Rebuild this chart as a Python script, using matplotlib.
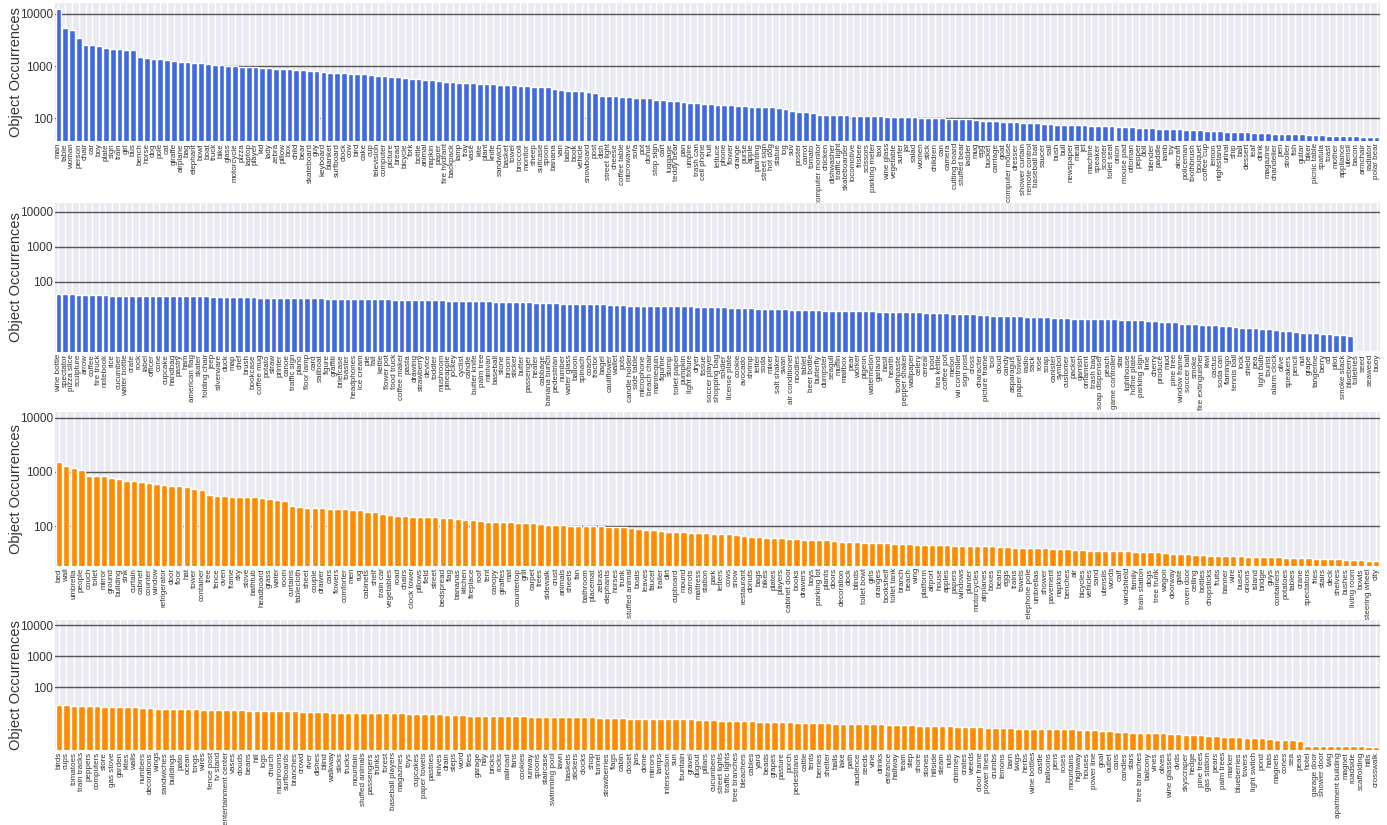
import matplotlib
matplotlib.use('Agg')
import matplotlib.pyplot as plt
import seaborn as sns
import numpy as np

sns.set_style('darkgrid')
plt.rcParams['font.family'] = ['Liberation Sans', 'DejaVu Sans']

# panel 1 - singular names, most frequent
labels_1 = ['man', 'table', 'woman', 'person', 'chair', 'car', 'boy', 'plate', 'sign', 'train',
            'girl', 'bus', 'bench', 'horse', 'dog', 'pole', 'cat', 'giraffe', 'airplane', 'bag',
            'elephant', 'bowl', 'boat', 'truck', 'bike', 'glass', 'motorcycle', 'pizza', 'laptop', 'player',
            'kid', 'lady', 'zebra', 'pillow', 'box', 'child', 'bear', 'skateboard', 'guy', 'keyboard',
            'blanket', 'surfboard', 'clock', 'cow', 'bird', 'cake', 'cup', 'television', 'computer', 'picture',
            'bread', 'bicycle', 'fork', 'bottle', 'animal', 'napkin', 'paper', 'fire hydrant', 'backpack', 'lamp',
            'tray', 'vase', 'kite', 'plant', 'knife', 'sandwich', 'basket', 'towel', 'broccoli', 'monitor',
            'sheep', 'suitcase', 'spoon', 'banana', 'van', 'baby', 'book', 'vehicle', 'snowboard', 'post',
            'dish', 'street light', 'cheese', 'coffee table', 'microwave', 'sofa', 'pot', 'donut', 'stop sign', 'cart',
            'luggage', 'teddy bear', 'pan', 'umpire', 'trash can', 'cell phone', 'fruit', 'lettuce', 'phone', 'flower',
            'orange', 'purse', 'apple', 'painting', 'street sign', 'hot dog', 'statue', 'log', 'suv', 'poster',
            'carrot', 'tomato', 'computer monitor', 'chicken', 'dishwasher', 'traffic light', 'skateboarder', 'locomotive', 'frisbee', 'scissors',
            'parking meter', 'taxi', 'wine glass', 'vegetable', 'surfer', 'jar', 'salad', 'women', 'stick', 'children',
            'can', 'camera', 'cutting board', 'stuffed bear', 'ladder', 'mug', 'egg', 'bucket', 'carriage', 'goat',
            'computer mouse', 'dresser', 'shower curtain', 'remote control', 'baseball bat', 'saucer', 'sail', 'bush', 'bull', 'newspaper',
            'meal', 'jet', 'machine', 'speaker', 'scooter', 'toilet seat', 'onion', 'mouse pad', 'ottoman', 'pepper',
            'doll', 'blender', 'paddle', 'lamb', 'toy', 'aircraft', 'policeman', 'toothbrush', 'bouquet', 'coffee cup',
            'lemon', 'nightstand', 'urinal', 'ship', 'ball', 'dessert', 'leaf', 'drink', 'magazine', 'chandelier',
            'pen', 'stroller', 'fish', 'guitar', 'biker', 'picnic table', 'spatula', 'toast', 'mother', 'appliance',
            'utensil', 'bacon', 'armchair', 'radiator', 'polar bear']
counts_1 = [12500, 5400, 5000, 3400, 2600, 2550, 2450, 2200, 2150, 2100,
            2050, 2000, 1500, 1450, 1400, 1350, 1300, 1250, 1200, 1180,
            1150, 1130, 1100, 1070, 1050, 1020, 1000, 980, 960, 950,
            940, 920, 900, 890, 880, 860, 840, 810, 790, 770,
            750, 740, 730, 720, 710, 700, 680, 650, 640, 630,
            620, 600, 570, 560, 550, 540, 530, 500, 490, 480,
            470, 465, 460, 455, 450, 440, 435, 430, 420, 410,
            405, 400, 390, 360, 350, 340, 335, 330, 325, 310,
            270, 265, 262, 258, 255, 250, 245, 240, 225, 220,
            215, 210, 205, 200, 195, 190, 185, 180, 178, 176,
            172, 170, 168, 166, 164, 162, 160, 150, 140, 135,
            130, 128, 118, 117, 116, 115, 114, 113, 112, 111,
            110, 109, 108, 107, 106, 105, 104, 103, 102, 101,
            100, 99, 98, 97, 96, 93, 90, 88, 87, 86,
            85, 84, 82, 81, 80, 78, 77, 76, 76, 75,
            74, 73, 72, 71, 70, 70, 69, 68, 67, 66,
            65, 64, 63, 62, 62, 61, 60, 60, 59, 58,
            57, 56, 55, 55, 54, 54, 53, 52, 52, 51,
            50, 50, 49, 49, 48, 47, 47, 46, 46, 45,
            45, 45, 44, 44, 43]

# panel 2 - singular names, tail
labels_2 = ['wine bottle', 'spectator', 'pizza slice', 'sculpture', 'arrow', 'coffee', 'fire truck', 'notebook', 'rice', 'cucumber',
            'water bottle', 'crate', 'rock', 'label', 'officer', 'cone', 'cupcake', 'handbag', 'pastry', 'ham',
            'american flag', 'skater', 'folding chair', 'jeep', 'silverware', 'duck', 'map', 'chef', 'brush', 'bookcase',
            'coffee mug', 'potato', 'straw', 'printer', 'canoe', 'traffic sign', 'piano', 'floor lamp', 'card', 'sailboat',
            'figure', 'graffiti', 'briefcase', 'toaster', 'headphones', 'ice cream', 'pie', 'rail', 'kettle', 'flower pot',
            'food truck', 'coffee maker', 'pasta', 'drawing', 'strawberry', 'device', 'toddler', 'mushroom', 'pineapple', 'jockey',
            'cyclist', 'candle', 'butter knife', 'palm tree', 'minivan', 'baseball', 'stone', 'broom', 'sticker', 'butter',
            'passenger', 'heater', 'cabbage', 'banana bunch', 'pedestrian', 'number', 'water glass', 'balloon', 'spinach', 'coach',
            'tractor', 'bagel', 'cauliflower', 'wallet', 'pots', 'candle holder', 'side table', 'microphone', 'beach chair', 'mannequin',
            'figurine', 'stump', 'toilet paper', 'pumpkin', 'light fixture', 'dryer', 'tissue', 'soccer player', 'shopping bag', 'soldier',
            'license plate', 'cookie', 'avocado', 'shrimp', 'letter', 'soda', 'mixer', 'salt shaker', 'swan', 'air conditioner',
            'noodles', 'tablet', 'beer bottle', 'butterfly', 'dumpster', 'seagull', 'muffin', 'mailbox', 'pear', 'worker',
            'pigeon', 'watermelon', 'garland', 'basil', 'hearth', 'toothpaste', 'pepper shaker', 'wallpaper', 'celery', 'cereal',
            'ipod', 'tea kettle', 'coffee pot', 'melon', 'wii controller', 'sign post', 'cross', 'character', 'picture frame', 'tool',
            'cloud', 'candy', 'asparagus', 'paper towel', 'radio', 'sack', 'rose', 'soap', 'canister', 'symbol',
            'customer', 'packet', 'garnish', 'ornament', 'trash bag', 'soap dispenser', 'peach', 'game controller', 'star', 'lighthouse',
            'home plate', 'parking sign', 'lime', 'cherry', 'produce', 'mud', 'pine tree', 'window frame', 'soccer ball', 'smoke',
            'fire extinguisher', 'kiwi', 'cactus', 'soda can', 'flamingo', 'tennis ball', 'lock', 'shield', 'pea', 'light bulb',
            'tourist', 'alarm clock', 'olive', 'speakers', 'pencil', 'nut', 'grape', 'tangerine', 'berry', 'cd',
            'pilot', 'smoke stack', 'blueberry', 'toiletries', 'seed', 'seaweed', 'buoy']
counts_2 = [45, 44, 44, 43, 43, 42, 42, 42, 41, 41,
            41, 41, 41, 41, 41, 41, 41, 41, 40, 40,
            40, 39, 39, 38, 38, 38, 37, 37, 37, 37,
            36, 36, 36, 36, 35, 35, 35, 34, 34, 34,
            33, 33, 33, 33, 33, 32, 32, 32, 32, 32,
            31, 31, 31, 31, 30, 30, 30, 30, 29, 29,
            29, 29, 28, 28, 28, 27, 27, 27, 26, 26,
            26, 25, 25, 25, 25, 24, 24, 24, 24, 23,
            23, 23, 22, 22, 22, 21, 21, 21, 21, 21,
            20, 20, 20, 20, 20, 19, 19, 19, 19, 19,
            18, 18, 18, 18, 17, 17, 17, 17, 17, 16,
            16, 16, 16, 16, 15, 15, 15, 15, 15, 14.5,
            14.5, 14.5, 14, 14, 14, 14, 13.5, 13.5, 13.5, 13,
            13, 13, 13, 12.5, 12, 12, 12, 11.5, 11.5, 11,
            11, 11, 10.5, 10.5, 10, 10, 10, 10, 9.5, 9.5,
            9.5, 9, 9, 9, 9, 8.5, 8.5, 8.5, 8, 8,
            8, 8, 7.5, 7.5, 7, 7, 7, 6.5, 6.5, 6.5,
            6, 6, 6, 5.5, 5.5, 5.2, 5, 5, 4.8, 4.6,
            4.4, 4.2, 4, 3.9, 3.8, 3.6, 3.5, 3.4, 3.3, 3.2,
            3.1, 3, 2.9, 1.1, 1.1, 1.1, 1.1]

# panel 3 - plural names, most frequent
labels_3 = ['bed', 'wall', 'umbrella', 'people', 'couch', 'toilet', 'mirror', 'ground', 'building', 'sink',
            'curtain', 'cabinet', 'counter', 'window', 'refrigerator', 'door', 'floor', 'hat', 'tower', 'container',
            'tree', 'fence', 'oven', 'frame', 'sky', 'stove', 'bathtub', 'headboard', 'grass', 'water',
            'room', 'curtains', 'tablecloth', 'sheet', 'couple', 'drawer', 'cars', 'flowers', 'comforter', 'men',
            'rug', 'cabinets', 'shelf', 'train car', 'vegetables', 'road', 'chairs', 'clock tower', 'pillows', 'field',
            'street', 'bedspread', 'flag', 'bananas', 'kitchen', 'fireplace', 'roof', 'tent', 'canopy', 'giraffes',
            'mat', 'countertop', 'grill', 'carpet', 'trees', 'sidewalk', 'crust', 'animals', 'sheets', 'fan',
            'bathroom', 'placemat', 'zebras', 'elephants', 'horses', 'trunk', 'stuffed animal', 'boats', 'leaves', 'faucet',
            'trailer', 'dirt', 'cupboard', 'mound', 'carrots', 'mattress', 'station', 'park', 'letters', 'cows',
            'snow', 'restaurant', 'donuts', 'bags', 'bikes', 'plates', 'players', 'cabinet door', 'books', 'drawers',
            'boys', 'parking lot', 'plants', 'doors', 'decoration', 'dock', 'blinds', 'toilet bowl', 'girls', 'oranges',
            'bookshelf', 'toilet tank', 'branch', 'beach', 'wing', 'platform', 'airport', 'house', 'apples', 'papers',
            'windows', 'planter', 'motorcycles', 'airplanes', 'boxes', 'bears', 'eggs', 'trains', 'towels', 'telephone pole',
            'umbrellas', 'shower', 'pavement', 'napkins', 'benches', 'air', 'bicycles', 'vehicles', 'sand', 'utensils',
            'words', 'calf', 'windshield', 'family', 'train station', 'dogs', 'tree trunk', 'wagon', 'doorway', 'gate',
            'oven door', 'ceiling', 'bottles', 'chopsticks', 'fruits', 'banner', 'wire', 'buses', 'onions', 'island',
            'bridge', 'guys', 'containers', 'potatoes', 'tables', 'crane', 'spectators', 'fries', 'stairs', 'deck',
            'shelves', 'bushes', 'living room', 'bowls', 'steering wheel', 'city']
counts_3 = [1530, 1300, 1200, 1100, 850, 850, 840, 770, 740, 690,
            680, 650, 620, 590, 575, 560, 540, 520, 490, 460,
            370, 360, 355, 350, 345, 345, 340, 330, 310, 300,
            285, 235, 225, 220, 215, 212, 210, 205, 205, 200,
            195, 185, 180, 165, 160, 155, 152, 150, 148, 146,
            145, 143, 140, 135, 130, 127, 122, 120, 119, 118,
            117, 116, 115, 113, 110, 106, 104, 103, 102, 101,
            100, 99, 98, 97, 96, 94, 92, 88, 86, 84,
            80, 78, 77, 76, 75, 74, 73, 72, 71, 70,
            68, 65, 63, 62, 61, 60, 59, 58, 57, 56,
            55, 55, 54, 53, 51, 50, 50, 49, 49, 48,
            48, 47, 47, 46, 45, 45, 45, 44, 44, 43,
            43, 43, 43, 42, 42, 41, 41, 40, 40, 40,
            39, 39, 38, 37, 37, 36, 36, 35, 35, 34,
            34, 34, 34, 33, 33, 33, 33, 32, 31, 30,
            30, 29, 29, 28, 28, 28, 28, 28, 27, 27,
            27, 27, 27, 26, 26, 26, 26, 25, 25, 25,
            25, 24, 24, 24, 23, 23]

# panel 4 - plural names, tail
labels_4 = ['birds', 'cups', 'tomatoes', 'train tracks', 'peppers', 'computers', 'store', 'gas stove', 'garden', 'kites',
            'walls', 'numbers', 'decorations', 'wings', 'sandwiches', 'buildings', 'patio', 'ocean', 'tongs', 'wires',
            'fence post', 'tv stand', 'entertainment center', 'vases', 'clouds', 'beans', 'hill', 'logs', 'church', 'mushrooms',
            'surfboards', 'branches', 'crowd', 'river', 'dishes', 'blind', 'walkway', 'sticks', 'trucks', 'mountain',
            'stuffed animals', 'passengers', 'trunks', 'forest', 'baseball players', 'magazines', 'toys', 'cupcakes', 'paper towels', 'pastries',
            'knives', 'drain', 'steps', 'word', 'tiles', 'garage', 'hay', 'bricks', 'rocks', 'railroad',
            'fans', 'cookies', 'runway', 'spoons', 'staircase', 'swimming pool', 'lawn', 'baskets', 'stickers', 'clocks',
            'shop', 'tunnel', 'strawberries', 'flags', 'cabin', 'closet', 'jars', 'dome', 'mirrors', 'lamps',
            'intersection', 'sun', 'fountain', 'gravel', 'dugout', 'pillars', 'cucumbers', 'street lights', 'traffic lights', 'tree branches',
            'bleachers', 'cables', 'yard', 'beads', 'grapes', 'pasture', 'porch', 'pedestrians', 'cattle', 'tents',
            'berries', 'shelter', 'balls', 'lake', 'path', 'audience', 'seeds', 'vine', 'drinks', 'entrance',
            'hallway', 'team', 'step', 'shore', 'stones', 'hillside', 'steam', 'nuts', 'chimney', 'crates',
            'weeds', 'door frame', 'power lines', 'crumbs', 'lemons', 'barn', 'twigs', 'herbs', 'wine bottles', 'castle',
            'balloons', 'pens', 'roses', 'mountains', 'highway', 'houses', 'power line', 'goal', 'outlet', 'cans',
            'candles', 'stars', 'tree branches', 'balcony', 'vines', 'olives', 'wine glasses', 'dvds', 'skyscraper', 'hedge',
            'pine trees', 'gas station', 'pears', 'palm trees', 'marker', 'blueberries', 'towers', 'light switch', 'pond', 'hats',
            'magnets', 'cones', 'sea', 'peas', 'hotel', 'garage door', 'shower door', 'twig', 'apartment building', 'magnet',
            'roadside', 'scaffolding', 'hills', 'crosswalk']
counts_4 = [26, 25.5, 25, 25, 24, 24, 23.5, 23, 23, 22.5,
            22, 21, 20.5, 20, 20, 19.5, 19, 19, 19, 18.5,
            18.5, 18, 18, 18, 17.5, 17, 17, 17, 16.5, 16.5,
            16.5, 16.5, 16, 16, 15.5, 15.5, 15, 15, 15, 14.5,
            14.5, 14.5, 14.5, 14, 14, 14, 13.5, 13.5, 13, 13,
            13, 12.5, 12.5, 12.5, 12, 12, 12, 12, 11.5, 11.5,
            11.5, 11.5, 11, 11, 11, 11, 11, 10.5, 10.5, 10.5,
            10.5, 10, 10, 10, 10, 9.5, 9.5, 9.5, 9.5, 9,
            9, 9, 9, 9, 8.5, 8.5, 8.5, 8, 8, 8,
            8, 8, 7.5, 7.5, 7.5, 7.5, 7.5, 7, 7, 7,
            7, 7, 6.5, 6.5, 6.5, 6.5, 6.5, 6.5, 6.5, 6,
            6, 6, 6, 5.5, 5.5, 5.5, 5.5, 5.5, 5, 5,
            5, 5, 4.8, 4.8, 4.8, 4.8, 4.5, 4.5, 4.5, 4.5,
            4.3, 4.3, 4.3, 4.3, 4, 4, 4, 3.8, 3.8, 3.6,
            3.6, 3.4, 3.4, 3.3, 3.3, 3.2, 3.1, 3, 2.9, 2.8,
            2.8, 2.7, 2.6, 2.5, 2.5, 2.4, 2.3, 2.3, 2.2, 2.1,
            2.0, 2.0, 1.9, 1.8, 1.25, 1.25, 1.25, 1.25, 1.25, 1.25,
            1.25, 1.25, 1.2, 1.2]

blue = '#4169e1'
orange = '#ff8c00'

W, H = 1387, 825
fig = plt.figure(figsize=(W / 100, H / 100), dpi=100)

# (labels, counts, colour, top px, bottom px, ymin, ymax)
panels = [
    (labels_1, counts_1, blue, 3, 141, 36.7, 16250),
    (labels_2, counts_2, blue, 203, 352, 1.0, 18000),
    (labels_3, counts_3, orange, 412, 566, 18.2, 12900),
    (labels_4, counts_4, orange, 620, 750, 0.93, 14500),
]

for labels, counts, color, top, bottom, ymin, ymax in panels:
    ax = fig.add_axes([55 / W, 1 - bottom / H, 1325 / W, (bottom - top) / H])
    x = np.arange(len(labels))
    ax.bar(x, counts, width=0.85, color=color, zorder=2)
    ax.set_yscale('log')
    ax.set_ylim(ymin, ymax)
    ax.set_xlim(-0.5, len(labels) - 0.5)
    ax.set_xticks(x)
    ax.set_xticklabels(labels, rotation=90, fontsize=5.8, color='#333333')
    ax.set_yticks([100, 1000, 10000])
    ax.set_yticklabels(['100', '1000', '10000'], fontsize=8.5, color='#333333')
    ax.yaxis.set_minor_locator(matplotlib.ticker.NullLocator())
    ax.tick_params(axis='both', length=0, pad=1.5)
    ax.grid(axis='y', color='#555555', linewidth=1)
    ax.grid(axis='x', color='white', linewidth=1)
    ax.set_ylabel('Object Occurrences', fontsize=10.5, color='#333333')
    ax.yaxis.set_label_coords(-0.0245, 0.5)
    for s in ax.spines.values():
        s.set_visible(False)

fig.savefig('out.png', dpi=100)
